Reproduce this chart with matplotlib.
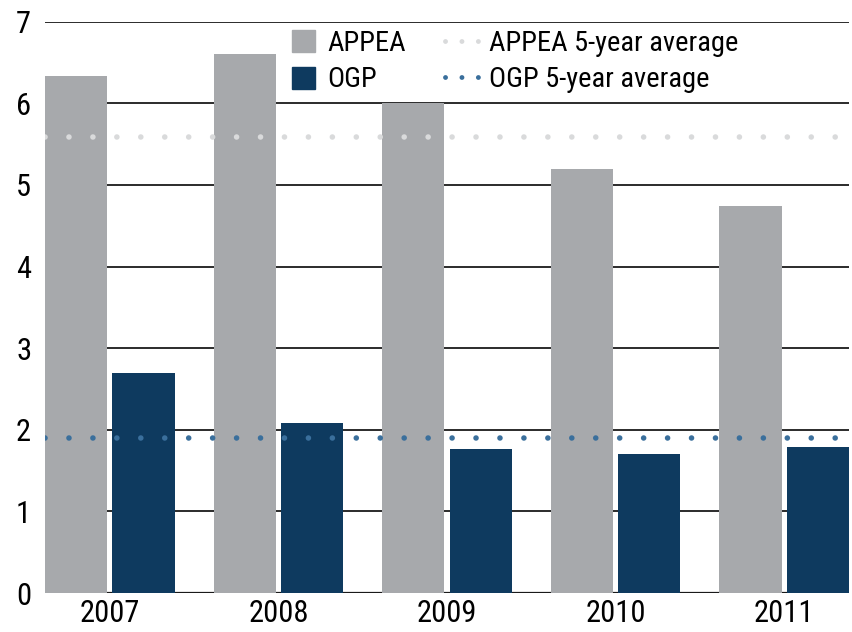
import numpy as np
import matplotlib
matplotlib.use("Agg")
import matplotlib.pyplot as plt
from matplotlib.patches import Patch
from matplotlib.lines import Line2D

# data
years = ["2007", "2008", "2009", "2010", "2011"]
appea = [6.33, 6.61, 6.00, 5.20, 4.74]
ogp = [2.69, 2.08, 1.76, 1.70, 1.79]
appea_avg = 5.59
ogp_avg = 1.90
yticks = [0, 1, 2, 3, 4, 5, 6, 7]

c_appea = "#a7a9ac"
c_ogp = "#0e3a5f"
c_appea_avg = "#d9dadb"
c_ogp_avg = "#3a6f9c"

plt.rcParams['font.family'] = ['Roboto Condensed', 'Liberation Sans Narrow',
                               'Liberation Sans', 'DejaVu Sans']
fs = 20.5

fig = plt.figure(figsize=(8.53, 6.32), dpi=100)
ax = fig.add_axes([0.0528, 0.0617, 0.9425, 0.904])

x = np.arange(len(years))
w = 0.37
off = 0.2

# gridlines behind bars
for y in yticks:
    ax.axhline(y, color="#1a1a1a", lw=1.6 if y == 0 else 1.3, zorder=1)

ax.bar(x - off, appea, width=w, color=c_appea, zorder=2)
ax.bar(x + off, ogp, width=w, color=c_ogp, zorder=2)

dot_lw = 4.0
dots = (0, (0.01, 4.3))
ax.axhline(appea_avg, color=c_appea_avg, lw=dot_lw, ls=dots,
           dash_capstyle="round", zorder=3)
ax.axhline(ogp_avg, color=c_ogp_avg, lw=dot_lw, ls=dots,
           dash_capstyle="round", zorder=3)

ax.set_xlim(-off - w / 2, len(years) - 1 + off + w / 2)
ax.set_ylim(0, 7)
ax.set_xticks(x)
ax.set_xticklabels(years)
ax.set_yticks(yticks)
ax.tick_params(length=0, labelsize=fs + 1.5)
ax.tick_params(axis="y", pad=10)
ax.tick_params(axis="x", pad=4)
for s in ax.spines.values():
    s.set_visible(False)

# two legends: bar swatches, then the dotted averages
top = 0.9525
bar_handles = [Patch(color=c_appea), Patch(color=c_ogp)]
leg1 = ax.legend(bar_handles, ["APPEA", "OGP"], loc="upper left",
                 bbox_to_anchor=(0.3423, top), bbox_transform=fig.transFigure,
                 frameon=False, fontsize=fs, handlelength=0.81,
                 handleheight=0.81, handletextpad=0.42, labelspacing=0.33,
                 borderpad=0, borderaxespad=0)
leg1.set_zorder(5)
ax.add_artist(leg1)

leg_lw = 3.5
avg_handles = [
    Line2D([], [], color=c_appea_avg, lw=leg_lw, ls=(0, (0.01, 3.37)),
           dash_capstyle="round"),
    Line2D([], [], color=c_ogp_avg, lw=leg_lw, ls=(0, (0.01, 3.37)),
           dash_capstyle="round"),
]
leg2 = ax.legend(avg_handles, ["APPEA 5-year average", "OGP 5-year average"],
                 loc="upper left", bbox_to_anchor=(0.5215, top),
                 bbox_transform=fig.transFigure, frameon=False, fontsize=fs,
                 handlelength=1.19, handleheight=0.81, handletextpad=0.35,
                 labelspacing=0.33, borderpad=0, borderaxespad=0)
leg2.set_zorder(5)

fig.savefig("out.png", dpi=100)
